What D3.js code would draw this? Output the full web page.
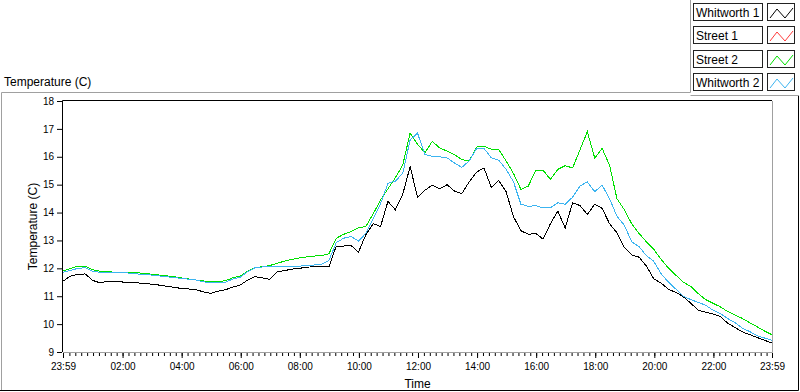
<!DOCTYPE html>
<html>
<head>
<meta charset="utf-8">
<script src="https://cdn.jsdelivr.net/npm/d3@7"></script>
<style>
  body { margin: 0; background: #fff; }
  svg { display: block; font-family: "Liberation Sans", Arial, sans-serif; font-size: 12px; }
</style>
</head>
<body>
<svg id="chart" width="800" height="392"></svg>
<script>
// ---- Data (one reading every 15 minutes, starting 23:59) ----
const seriesNames = ["Whitworth 1", "Street 1", "Street 2", "Whitworth 2"];
const seriesColors = ["#000000", "#ff3a3a", "#00e000", "#3cb4f0"];
const stepMinutes = 15;

const whitworth1 = [
  11.54, 11.72, 11.78, 11.80, 11.57, 11.48, 11.53, 11.52, 11.51, 11.50,
  11.48, 11.46, 11.43, 11.40, 11.36, 11.32, 11.28, 11.26, 11.23, 11.16,
  11.10, 11.18, 11.23, 11.33, 11.40, 11.58, 11.70, 11.66, 11.60, 11.88,
  11.92, 11.97, 12.00, 12.04, 12.06, 12.08, 12.05, 12.80, 12.80, 12.82,
  12.58, 13.20, 13.60, 13.50, 14.40, 14.10, 14.65, 15.65, 14.55, 14.80,
  14.98, 14.85, 15.00, 14.77, 14.68, 15.10, 15.45, 15.60, 14.90, 15.15,
  14.75, 13.85, 13.35, 13.22, 13.25, 13.05, 13.60, 14.05, 13.45, 14.35,
  14.25, 13.93, 14.30, 14.15, 13.60, 13.28, 12.75, 12.48, 12.40, 12.08,
  11.62, 11.47, 11.24, 11.14, 10.98, 10.75, 10.50, 10.43, 10.36, 10.28,
  10.03, 9.88, 9.72, 9.62, 9.52, 9.42, 9.32
];

const street1 = [];

const street2 = [
  11.90, 11.99, 12.08, 12.08, 11.95, 11.90, 11.88, 11.86, 11.84, 11.84,
  11.84, 11.82, 11.79, 11.76, 11.73, 11.70, 11.66, 11.62, 11.58, 11.55,
  11.51, 11.52, 11.56, 11.66, 11.72, 11.90, 12.02, 12.06, 12.10, 12.18,
  12.26, 12.32, 12.37, 12.41, 12.44, 12.46, 12.52, 13.08, 13.22, 13.32,
  13.45, 13.50, 13.95, 14.45, 14.85, 15.25, 15.70, 16.85, 16.45, 16.15,
  16.55, 16.32, 16.20, 16.08, 15.90, 15.85, 16.35, 16.38, 16.27, 16.26,
  15.85, 15.40, 14.83, 14.95, 15.50, 15.52, 15.19, 15.55, 15.68, 15.60,
  16.25, 16.90, 15.95, 16.30, 15.70, 14.50, 14.10, 13.60, 13.25, 12.95,
  12.68, 12.32, 12.00, 11.75, 11.50, 11.35, 11.10, 10.88, 10.75, 10.62,
  10.45, 10.33, 10.20, 10.05, 9.90, 9.75, 9.62
];

const whitworth2 = [
  11.86, 11.92, 12.00, 12.02, 11.90, 11.86, 11.84, 11.84, 11.84, 11.83,
  11.80, 11.78, 11.76, 11.73, 11.70, 11.67, 11.64, 11.61, 11.58, 11.52,
  11.48, 11.48, 11.50, 11.62, 11.68, 11.88, 12.02, 12.05, 12.08, 12.08,
  12.08, 12.08, 12.08, 12.10, 12.12, 12.14, 12.28, 12.92, 13.08, 13.14,
  12.98, 13.25, 13.78, 14.32, 15.05, 15.13, 15.40, 16.60, 16.85, 16.08,
  16.02, 16.00, 15.96, 15.78, 15.62, 15.85, 16.30, 16.30, 15.96, 15.88,
  15.55, 15.10, 14.30, 14.22, 14.25, 14.17, 14.17, 14.35, 14.30, 14.55,
  14.95, 15.10, 14.75, 14.98, 14.50, 13.87, 13.55, 12.95, 12.78, 12.45,
  12.25, 11.80, 11.50, 11.25, 11.00, 10.88, 10.78, 10.68, 10.50, 10.38,
  10.20, 10.05, 9.85, 9.73, 9.58, 9.50, 9.42
];

const yTicks = [9, 10, 11, 12, 13, 14, 15, 16, 17, 18];
const xTickMinutes = [0, 121, 241, 361, 481, 601, 721, 841, 961, 1081, 1201, 1321, 1440];
const xTickLabels = ["23:59", "02:00", "04:00", "06:00", "08:00", "10:00", "12:00",
  "14:00", "16:00", "18:00", "20:00", "22:00", "23:59"];

const seriesValues = [whitworth1, street1, street2, whitworth2];

// ---- Layout ----
const svg = d3.select("#chart");
const plot = { left: 63, right: 772, top: 101, bottom: 352 };
const frameGray = "#a0a0a0";

const x = d3.scaleLinear().domain([0, 1440]).range([plot.left, plot.right]);
const y = d3.scaleLinear().domain([9, 18]).range([plot.bottom, plot.top]);

// ---- Panel frames ----
const frame = svg.append("g").attr("fill", "none");
frame.append("path").attr("stroke", frameGray).attr("d", "M1.5,391V92.5H690.5V0");
frame.append("path").attr("stroke", frameGray).attr("d", "M690.5,95.5H799");
frame.append("path").attr("stroke", "#000").attr("d", "M0,390.5H798.5V96");

svg.append("text")
  .attr("x", 4).attr("y", 86)
  .text("Temperature (C)");

// ---- Legend ----
const legend = svg.append("g");
seriesNames.forEach((name, i) => {
  const top = 3 + i * 23.3;
  const row = legend.append("g").attr("transform", `translate(0,${Math.round(top)})`);
  row.append("rect")
    .attr("x", 693.5).attr("y", 0.5).attr("width", 69).attr("height", 17)
    .attr("fill", "#fff").attr("stroke", "#222");
  row.append("text")
    .attr("x", 696).attr("y", 13.5)
    .text(name);
  row.append("rect")
    .attr("x", 767.5).attr("y", 0.5).attr("width", 27).attr("height", 17)
    .attr("fill", "#fff").attr("stroke", "#222");
  row.append("path")
    .attr("d", "M770,15L777,6L785,15L793,5")
    .attr("fill", "none")
    .attr("stroke", seriesColors[i]);
});

// ---- Plot area ----
svg.append("rect")
  .attr("x", plot.left).attr("y", plot.top)
  .attr("width", plot.right - plot.left).attr("height", plot.bottom - plot.top)
  .attr("fill", "#fff");

svg.append("clipPath").attr("id", "plot-clip")
  .append("rect")
  .attr("x", plot.left).attr("y", plot.top - 1)
  .attr("width", plot.right - plot.left + 1).attr("height", plot.bottom - plot.top + 2);

const line = d3.line()
  .x((d, i) => x(i * stepMinutes))
  .y(d => y(d));

svg.append("g")
  .attr("clip-path", "url(#plot-clip)")
  .selectAll("path")
  .data(seriesValues)
  .join("path")
  .attr("fill", "none")
  .attr("stroke", (d, i) => seriesColors[i])
  .attr("stroke-width", 1)
  .attr("shape-rendering", "crispEdges")
  .attr("d", d => d.length ? line(d) : null);

// plot borders: dark top/left, gray bottom/right
svg.append("path").attr("fill", "none").attr("stroke", "#000")
  .attr("d", `M${plot.left - 0.5},${plot.bottom}V${plot.top - 0.5}H${plot.right}`);
svg.append("path").attr("fill", "none").attr("stroke", frameGray)
  .attr("d", `M${plot.left},${plot.bottom + 0.5}H${plot.right + 0.5}V${plot.top}`);

// ---- Axes ----
const yAxis = svg.append("g")
  .attr("transform", `translate(${plot.left - 1},0)`)
  .call(d3.axisLeft(y).tickValues(yTicks).tickSize(5).tickSizeOuter(0).tickPadding(3));
yAxis.select(".domain").remove();
yAxis.selectAll("text").attr("font-family", null).attr("font-size", null).attr("fill", "#000");

// minor time ticks
svg.append("g")
  .attr("transform", `translate(0,${plot.bottom + 1})`)
  .call(d3.axisBottom(x).tickValues(d3.range(13, 1440, 12)).tickSize(3).tickFormat(""))
  .call(g => g.select(".domain").remove());

const xAxis = svg.append("g")
  .attr("transform", `translate(0,${plot.bottom + 1})`)
  .call(d3.axisBottom(x).tickValues(xTickMinutes).tickSize(5).tickPadding(4.5)
    .tickFormat((d, i) => xTickLabels[i]));
xAxis.select(".domain").remove();
xAxis.selectAll("text").attr("font-family", null).attr("font-size", null).attr("fill", "#000");

svg.append("text")
  .attr("transform", "rotate(-90)")
  .attr("x", -(plot.top + plot.bottom) / 2).attr("y", 36.5)
  .attr("text-anchor", "middle")
  .text("Temperature (C)");

svg.append("text")
  .attr("x", (plot.left + plot.right) / 2).attr("y", 388)
  .attr("text-anchor", "middle")
  .text("Time");
</script>
</body>
</html>
